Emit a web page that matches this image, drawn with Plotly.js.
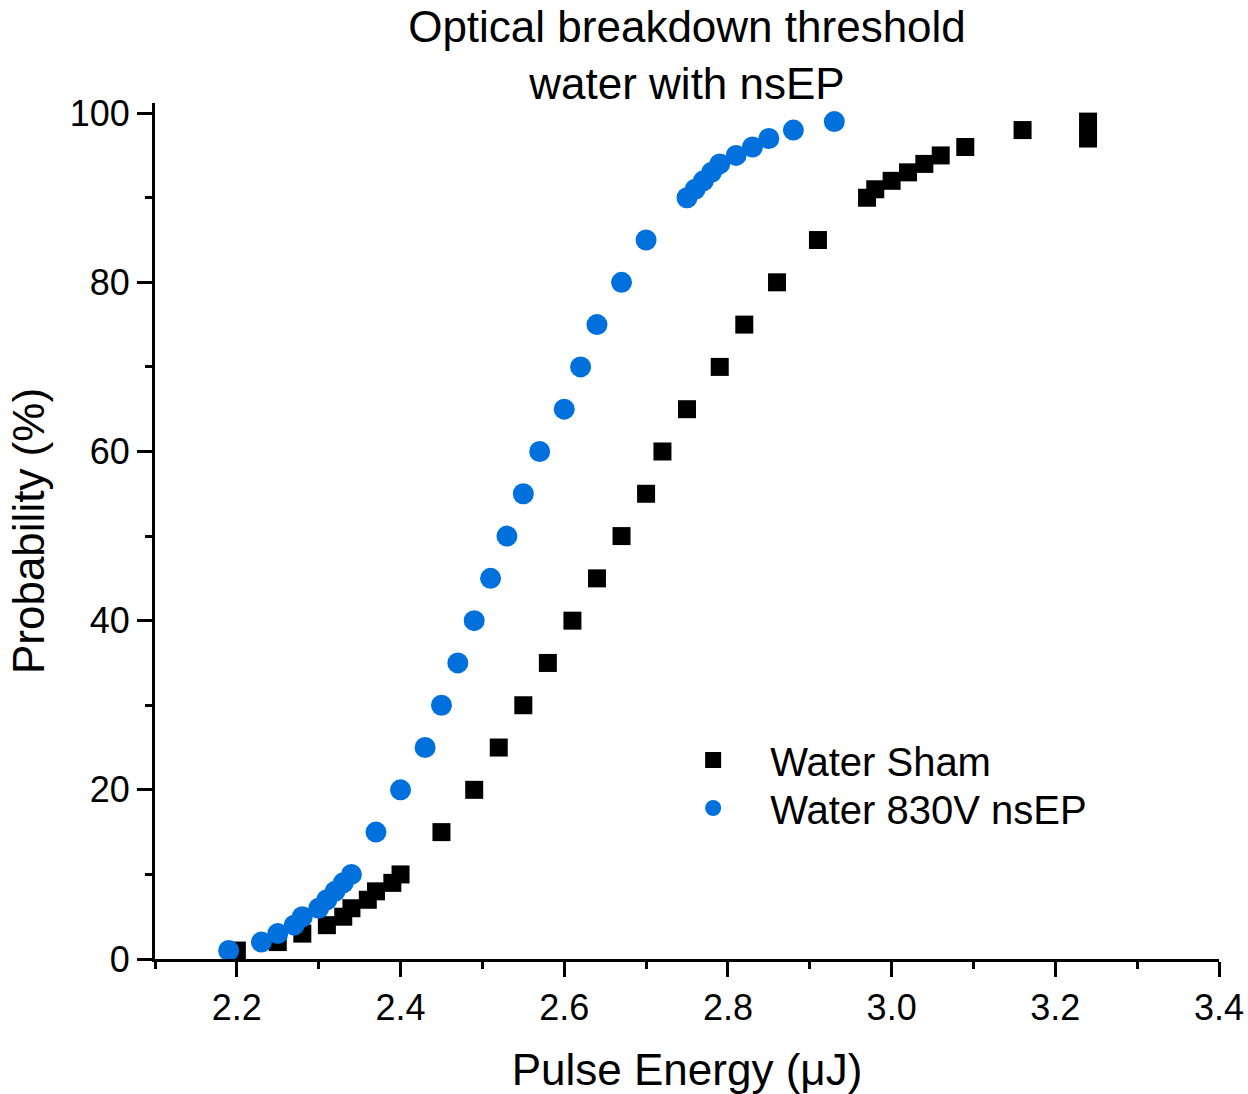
<!DOCTYPE html>
<html>
<head>
<meta charset="utf-8">
<script src="https://cdn.plot.ly/plotly-3.0.1.min.js"></script>
<style>html,body{margin:0;padding:0;background:#fff;}#chart{width:1248px;height:1094px;}</style>
</head>
<body>
<div id="chart"></div>
<script>
// Water Sham (black squares)
var shamEnergy = [2.20, 2.25, 2.28, 2.31, 2.33, 2.34, 2.36, 2.37, 2.39, 2.40, 2.45, 2.49, 2.52, 2.55, 2.58, 2.61, 2.64, 2.67, 2.70, 2.72, 2.75, 2.79, 2.82, 2.86, 2.91, 2.97, 2.98, 3.00, 3.02, 3.04, 3.06, 3.09, 3.16, 3.24, 3.24];
var shamProb   = [1, 2, 3, 4, 5, 6, 7, 8, 9, 10, 15, 20, 25, 30, 35, 40, 45, 50, 55, 60, 65, 70, 75, 80, 85, 90, 91, 92, 93, 94, 95, 96, 98, 97, 99];

// Water 830V nsEP (blue circles)
var nsepEnergy = [2.19, 2.23, 2.25, 2.27, 2.28, 2.30, 2.31, 2.32, 2.33, 2.34, 2.37, 2.40, 2.43, 2.45, 2.47, 2.49, 2.51, 2.53, 2.55, 2.57, 2.60, 2.62, 2.64, 2.67, 2.70, 2.75, 2.76, 2.77, 2.78, 2.79, 2.81, 2.83, 2.85, 2.88, 2.93];
var nsepProb   = [1, 2, 3, 4, 5, 6, 7, 8, 9, 10, 15, 20, 25, 30, 35, 40, 45, 50, 55, 60, 65, 70, 75, 80, 85, 90, 91, 92, 93, 94, 95, 96, 97, 98, 99];

var seriesNames = ['Water Sham', 'Water 830V nsEP'];
var titleText = 'Optical breakdown threshold<br>water with nsEP';
var xTitle = 'Pulse Energy (\u03BCJ)';
var yTitle = 'Probability (%)';

var FONT = 'Liberation Sans, Arial, Helvetica, sans-serif';

var traces = [
  {x: shamEnergy, y: shamProb, name: seriesNames[0], type: 'scatter', mode: 'markers', legend: 'legend',
   marker: {symbol: 'square', size: 18, color: '#000000', line: {width: 0}}, cliponaxis: false},
  {x: nsepEnergy, y: nsepProb, name: seriesNames[1], type: 'scatter', mode: 'markers', legend: 'legend2',
   marker: {symbol: 'circle', size: 21, color: 'rgb(0,112,221)', line: {width: 0}}, cliponaxis: false}
];

var legendCommon = {
  xanchor: 'left', yanchor: 'middle',
  bgcolor: 'rgba(0,0,0,0)', borderwidth: 0,
  font: {family: FONT, size: 40, color: '#000'},
  itemwidth: 104, tracegroupgap: 0
};

var layout = {
  width: 1248, height: 1094,
  paper_bgcolor: '#ffffff', plot_bgcolor: '#ffffff',
  font: {family: FONT, color: '#000000', size: 36},
  margin: {l: 155, r: 29, t: 103, b: 135},
  showlegend: true,
  title: {text: titleText, font: {family: FONT, size: 44, color: '#000'}, x: 0.5, xref: 'paper', xanchor: 'center', y: 0.9616, yref: 'container', yanchor: 'top'},
  xaxis: {
    range: [2.1, 3.4], tick0: 2.2, dtick: 0.2, tickformat: '.1f',
    showline: true, linewidth: 3, linecolor: '#000', mirror: false,
    showgrid: false, zeroline: false,
    ticks: 'outside', ticklen: 15, tickwidth: 3, tickcolor: '#000',
    tickfont: {family: FONT, size: 36, color: '#000'},
    minor: {ticks: 'outside', ticklen: 7, tickwidth: 3, tickcolor: '#000', dtick: 0.1, tick0: 2.1, showgrid: false},
    title: {text: xTitle, font: {family: FONT, size: 44, color: '#000'}, standoff: 30},
    automargin: false
  },
  yaxis: {
    range: [0, 101.2], tick0: 0, dtick: 20,
    showline: true, linewidth: 3, linecolor: '#000', mirror: false,
    showgrid: false, zeroline: false,
    ticks: 'outside', ticklen: 15, tickwidth: 3, tickcolor: '#000',
    tickfont: {family: FONT, size: 36, color: '#000'},
    minor: {ticks: 'outside', ticklen: 7, tickwidth: 3, tickcolor: '#000', dtick: 10, tick0: 0, showgrid: false},
    title: {text: yTitle, font: {family: FONT, size: 44, color: '#000'}, standoff: 12},
    automargin: false
  },
  legend: Object.assign({x: 0.471, y: 0.2325}, legendCommon),
  legend2: Object.assign({x: 0.471, y: 0.1764}, legendCommon)
};

Plotly.newPlot('chart', traces, layout, {displayModeBar: false, staticPlot: true});
</script>
</body>
</html>
